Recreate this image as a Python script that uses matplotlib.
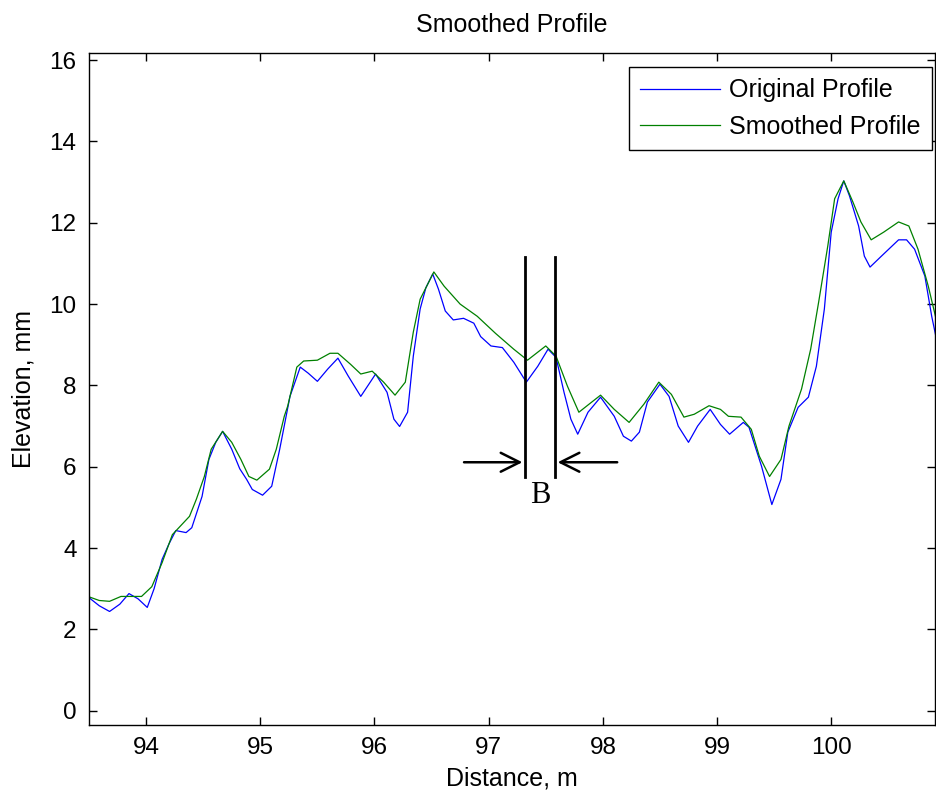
import numpy as np
import matplotlib
matplotlib.use("Agg")
import matplotlib.pyplot as plt

plt.rcParams['font.family'] = ['Liberation Sans', 'DejaVu Sans']

# original profile (distance m, elevation mm)
orig_x = [93.50, 93.59, 93.68, 93.77, 93.85, 93.93, 94.01, 94.07, 94.14, 94.20, 94.26, 94.35,
          94.40, 94.49, 94.55, 94.61, 94.67, 94.75, 94.82, 94.88, 94.93, 95.02, 95.10, 95.17,
          95.26, 95.35, 95.42, 95.50, 95.59, 95.68, 95.77, 95.88, 96.01, 96.11, 96.17, 96.22,
          96.29, 96.34, 96.40, 96.45, 96.51, 96.56, 96.62, 96.69, 96.78, 96.87, 96.93, 97.02,
          97.12, 97.22, 97.33, 97.43, 97.52, 97.59, 97.66, 97.72, 97.78, 97.87, 97.98, 98.10,
          98.18, 98.25, 98.32, 98.39, 98.50, 98.58, 98.66, 98.75, 98.83, 98.94, 99.03, 99.11,
          99.23, 99.28, 99.39, 99.48, 99.56, 99.62, 99.71, 99.80, 99.87, 99.94, 100.00, 100.06,
          100.11, 100.16, 100.24, 100.29, 100.34, 100.44, 100.59, 100.66, 100.73, 100.82, 100.88,
          100.94]
orig_y = [2.78, 2.58, 2.44, 2.62, 2.88, 2.75, 2.54, 3.00, 3.72, 4.10, 4.43, 4.38,
          4.50, 5.27, 6.18, 6.60, 6.87, 6.43, 5.95, 5.69, 5.44, 5.30, 5.52, 6.43,
          7.73, 8.45, 8.30, 8.10, 8.40, 8.67, 8.23, 7.73, 8.28, 7.83, 7.17, 6.99,
          7.34, 8.72, 9.88, 10.40, 10.74, 10.37, 9.83, 9.61, 9.65, 9.53, 9.20, 8.97,
          8.93, 8.57, 8.08, 8.47, 8.89, 8.69, 7.83, 7.17, 6.80, 7.34, 7.71, 7.24,
          6.75, 6.63, 6.85, 7.59, 8.03, 7.73, 7.00, 6.60, 7.00, 7.41, 7.04, 6.80,
          7.09, 6.97, 6.01, 5.07, 5.69, 6.85, 7.46, 7.71, 8.47, 9.88, 11.77, 12.59,
          13.03, 12.66, 11.92, 11.18, 10.91, 11.18, 11.58, 11.58, 11.35, 10.69, 9.70,
          8.89]

# smoothed profile
smooth_x = [93.50, 93.59, 93.68, 93.78, 93.96, 94.05, 94.14, 94.23, 94.38, 94.44, 94.51, 94.57,
            94.67, 94.75, 94.83, 94.90, 94.97, 95.08, 95.14, 95.21, 95.24, 95.32, 95.38, 95.50,
            95.61, 95.68, 95.79, 95.88, 95.98, 96.08, 96.18, 96.27, 96.34, 96.40, 96.52, 96.61,
            96.75, 96.90, 97.06, 97.22, 97.34, 97.50, 97.59, 97.69, 97.79, 97.88, 97.98, 98.10,
            98.23, 98.36, 98.49, 98.60, 98.71, 98.80, 98.93, 99.03, 99.10, 99.21, 99.30, 99.37,
            99.46, 99.56, 99.63, 99.74, 99.82, 99.89, 99.97, 100.03, 100.11, 100.19, 100.26,
            100.35, 100.46, 100.59, 100.68, 100.76, 100.85, 100.94]
smooth_y = [2.80, 2.71, 2.69, 2.81, 2.81, 3.05, 3.64, 4.33, 4.78, 5.20, 5.76, 6.43,
            6.87, 6.60, 6.18, 5.76, 5.67, 5.94, 6.43, 7.24, 7.49, 8.45, 8.60, 8.62,
            8.79, 8.79, 8.52, 8.28, 8.35, 8.08, 7.76, 8.08, 9.31, 10.12, 10.79, 10.44,
            10.00, 9.70, 9.28, 8.89, 8.62, 8.97, 8.72, 7.98, 7.34, 7.54, 7.76, 7.41,
            7.09, 7.54, 8.08, 7.78, 7.22, 7.29, 7.50, 7.41, 7.24, 7.22, 6.92, 6.26,
            5.76, 6.18, 7.00, 7.91, 8.89, 10.05, 11.43, 12.59, 13.03, 12.51, 12.02,
            11.58, 11.77, 12.02, 11.92, 11.35, 10.44, 9.38]

# width marker "B"
b_lines = [97.32, 97.58]
b_top, b_bottom = 11.16, 5.74
arrow_y = 6.11
arrow_left, arrow_right = 96.76, 98.15

fig = plt.figure(figsize=(9.37, 7.94), dpi=100)
ax = fig.add_axes([0.095, 0.087, 0.903, 0.846])

ax.plot(orig_x, orig_y, color='#0000ff', lw=0.9, label='Original Profile')
ax.plot(smooth_x, smooth_y, color='#008000', lw=0.9, label='Smoothed Profile')

for bx in b_lines:
    ax.plot([bx, bx], [b_bottom, b_top], color='black', lw=2)
ax.annotate('', xy=(b_lines[0], arrow_y), xytext=(arrow_left, arrow_y),
            arrowprops=dict(arrowstyle='->', color='black', lw=1.8, mutation_scale=34))
ax.annotate('', xy=(b_lines[1], arrow_y), xytext=(arrow_right, arrow_y),
            arrowprops=dict(arrowstyle='->', color='black', lw=1.8, mutation_scale=34))
ax.text(np.mean(b_lines), 5.28, 'B', family=['Liberation Serif', 'DejaVu Serif'],
        fontsize=22, ha='center', va='center')

ax.set_xlim(93.5, 100.91)
ax.set_ylim(-0.35, 16.17)
ax.set_xticks([94, 95, 96, 97, 98, 99, 100])
ax.set_yticks(range(0, 17, 2))
ax.tick_params(direction='in', length=6, width=1, labelsize=17.5, top=True, right=True, pad=9)
for s in ax.spines.values():
    s.set_linewidth(1)

ax.set_title('Smoothed Profile', fontsize=18, pad=15)
ax.set_xlabel('Distance, m', fontsize=18, labelpad=5)
ax.set_ylabel('Elevation, mm', fontsize=18, labelpad=10)

leg = ax.legend(loc='upper right', bbox_to_anchor=(932 / 937, 1 - 67 / 794),
                bbox_transform=fig.transFigure, fontsize=18, fancybox=False,
                framealpha=1, edgecolor='black', borderaxespad=0, handlelength=3.2,
                handletextpad=0.35, borderpad=0.45, labelspacing=0.5)
leg.get_frame().set_linewidth(1)

fig.savefig('out.png', dpi=100)
